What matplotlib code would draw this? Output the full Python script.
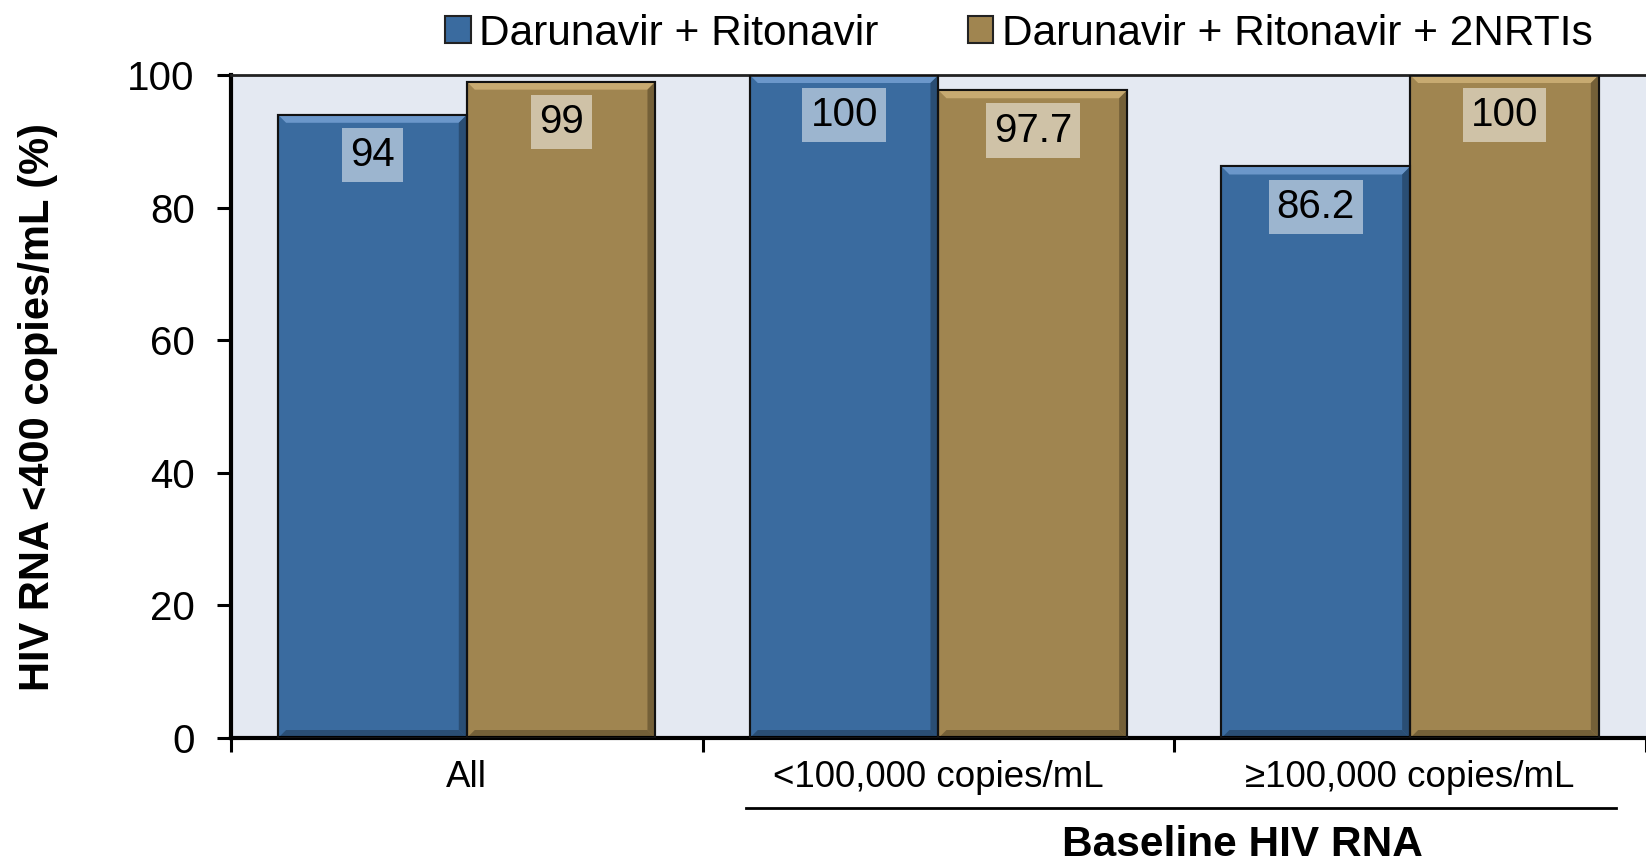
import numpy as np
import matplotlib
matplotlib.use("Agg")
import matplotlib.pyplot as plt
from matplotlib.patches import Polygon, Rectangle
from matplotlib.transforms import blended_transform_factory

plt.rcParams['font.family'] = ['Liberation Sans', 'DejaVu Sans']

categories = ["All", "<100,000 copies/mL", "\u2265100,000 copies/mL"]
series_names = ["Darunavir + Ritonavir", "Darunavir + Ritonavir + 2NRTIs"]
drv_r = [94, 100, 86.2]
drv_r_nrti = [99, 97.7, 100]
value_labels = [["94", "100", "86.2"], ["99", "97.7", "100"]]

colors = ["#3A6B9F", "#A08550"]
light = ["#78A3D6", "#D2B47A"]
dark = ["#26476A", "#6A5733"]

fig = plt.figure(figsize=(16.46, 8.66), dpi=100)
ax = fig.add_axes([0.1403, 0.1478, 0.8597, 0.7656])
ax.set_facecolor("#E4E9F2")

x = np.arange(len(categories))
w = 0.4
bars = []
for i, vals in enumerate([drv_r, drv_r_nrti]):
    b = ax.bar(x + (i - 0.5) * w, vals, w, color=colors[i], edgecolor="#111111",
               linewidth=1.5, zorder=2, label=series_names[i])
    bars.append(b)

ax.set_xlim(-0.5, 2.4727)
ax.set_ylim(0, 100)
ax.set_yticks(np.arange(0, 101, 20))
ax.tick_params(axis='y', labelsize=29, length=10, width=2.2, direction='out', pad=16)
ax.set_xticks(x)
ax.set_xticklabels(categories)
ax.tick_params(axis='x', which='major', length=0, labelsize=26.5, pad=16)
ax.set_xticks(np.arange(-0.5, 3, 1.0), minor=True)
ax.tick_params(axis='x', which='minor', length=10, width=2.2, direction='out')

for s in ["left", "bottom"]:
    ax.spines[s].set_linewidth(3)
    ax.spines[s].set_color("black")
ax.spines["top"].set_linewidth(2)
ax.spines["top"].set_color("#222222")
ax.spines["right"].set_visible(False)

ax.set_ylabel("HIV RNA <400 copies/mL (%)", fontsize=30, fontweight='bold')
ax.yaxis.set_label_coords(-0.122, 0.5)

# bevel edges on each bar, drawn in pixel space
fig.canvas.draw()
bev = 8
inv = ax.transData.inverted()
for i, b in enumerate(bars):
    for r in b.patches:
        (x0, y0), (x1, y1) = ax.transData.transform([(r.get_x(), 0), (r.get_x() + r.get_width(), r.get_height())])
        def poly(pts, c):
            p = Polygon(inv.transform(pts), closed=True, facecolor=c, edgecolor='none', zorder=2.5, alpha=0.8)
            ax.add_patch(p)
        poly([(x0, y1), (x1, y1), (x1 - bev, y1 - bev), (x0 + bev, y1 - bev)], light[i])
        poly([(x1, y1), (x1, y0), (x1 - bev, y0 + bev), (x1 - bev, y1 - bev)], dark[i])
        poly([(x0, y0), (x1, y0), (x1 - bev, y0 + bev), (x0 + bev, y0 + bev)], dark[i])
        ax.add_patch(Rectangle(r.get_xy(), r.get_width(), r.get_height(), fill=False,
                               edgecolor="#111111", linewidth=1.5, zorder=2.6))

for i, b in enumerate(bars):
    for r, lab in zip(b.patches, value_labels[i]):
        ax.annotate(lab, (r.get_x() + r.get_width() / 2, r.get_height()),
                    xytext=(0, -29), textcoords='offset points', ha='center', va='center',
                    fontsize=29, zorder=4,
                    bbox=dict(boxstyle='square,pad=0.2', facecolor='white', alpha=0.5, edgecolor='none'))

# group bracket for baseline HIV RNA
tr = blended_transform_factory(ax.transData, ax.transAxes)
ax.plot([0.592, 2.437], [-0.1056, -0.1056], color='black', linewidth=2, transform=tr, clip_on=False)
ax.text(1.645, -0.178, "Baseline HIV RNA", transform=tr, ha='center', va='baseline',
        fontsize=30.5, fontweight='bold')

handles = [Rectangle((0, 0), 1, 1, facecolor=colors[i], edgecolor='#222222', linewidth=1.5) for i in range(2)]
fig.legend(handles, series_names, loc='center', bbox_to_anchor=(0.619, 0.961), ncol=2,
           frameon=False, fontsize=30.5, handlelength=0.6, handleheight=0.6,
           handletextpad=0.2, columnspacing=2.1, borderaxespad=0)

fig.savefig("out.png", dpi=100)
